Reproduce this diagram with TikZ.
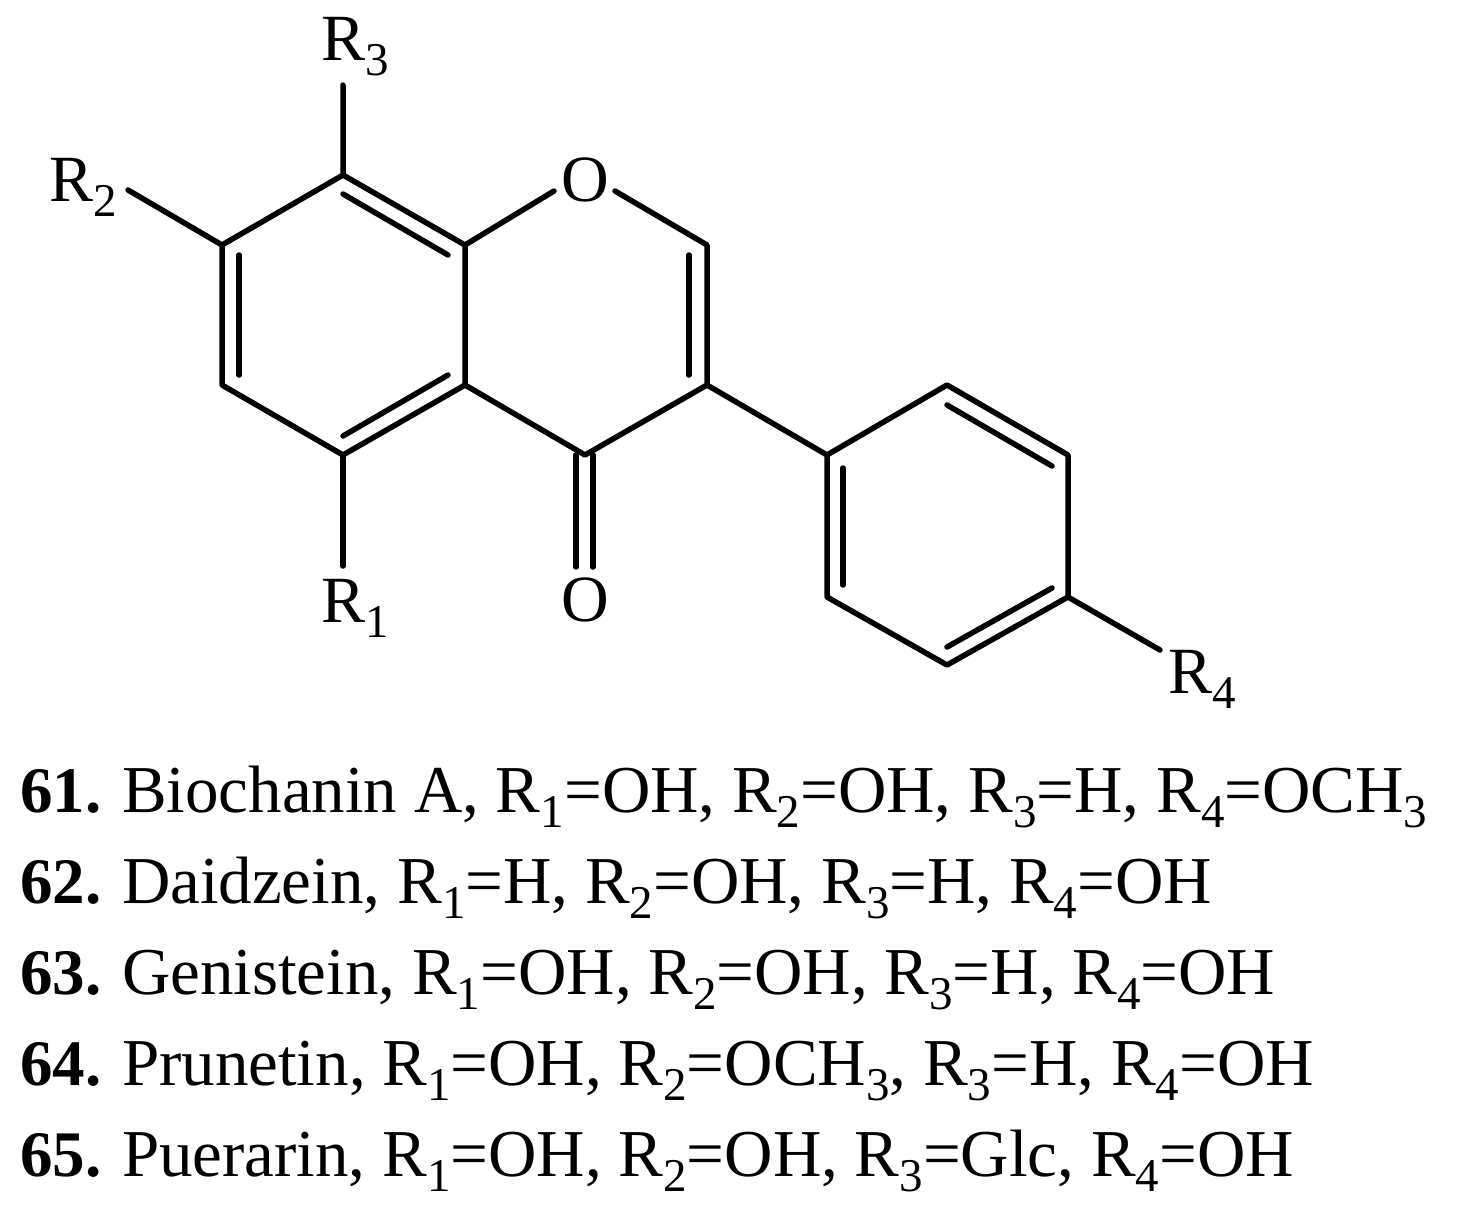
\documentclass[tikz,border=0pt]{standalone}
\usepackage{fontspec}
\setmainfont{Liberation Serif}
\newcommand\sbs[1]{\raisebox{-15pt}{\fontsize{47}{47}\selectfont #1}}
\newcommand\rr[1]{R\sbs{#1}}
\newcommand\num[1]{\makebox[102pt][l]{\fontsize{65}{65}\selectfont\textbf{#1}}}
\tikzset{
  bond/.style={line width=5.5pt,line cap=round,line join=round,black},
  atom/.style={inner sep=0pt,outer sep=0pt,font=\fontsize{66}{66}\selectfont,text=black},
  row/.style={inner sep=0pt,outer sep=0pt,anchor=base west,font=\fontsize{67}{67}\selectfont,text=black}
}
\begin{document}
\begin{tikzpicture}[x=1pt,y=-1pt]
\useasboundingbox (0,0) rectangle (1461,1218);
% ring atoms
\coordinate (c8) at (343,175);
\coordinate (c8a) at (465,245);
\coordinate (c2) at (707,245);
\coordinate (c3) at (707,385);
\coordinate (c4) at (585,455);
\coordinate (c4a) at (465,385);
\coordinate (c5) at (343,455);
\coordinate (c6) at (222,385);
\coordinate (c7) at (222,245);
\coordinate (p1) at (827,455);
\coordinate (p2) at (947,385);
\coordinate (p3) at (1068,455);
\coordinate (p4) at (1068,597);
\coordinate (p5) at (947,665);
\coordinate (p6) at (827,597);
% bond ends at labels
\coordinate (er3) at (343,85);
\coordinate (er2) at (128,190);
\coordinate (er1) at (343,566);
\coordinate (er4) at (1160,650);
\coordinate (eo1) at (554,191);
\coordinate (eo2) at (615,191);
% inner double bond lines
\coordinate (i1a) at (343,194);
\coordinate (i1b) at (448,255);
\coordinate (i2a) at (239,255);
\coordinate (i2b) at (239,375);
\coordinate (i3a) at (343,436);
\coordinate (i3b) at (448,375);
\coordinate (i4a) at (689,255);
\coordinate (i4b) at (689,375);
\coordinate (i5a) at (947,405);
\coordinate (i5b) at (1052,466);
\coordinate (i6a) at (843,468);
\coordinate (i6b) at (843,585);
\coordinate (i7a) at (1052,588);
\coordinate (i7b) at (947,647);
\coordinate (co1a) at (576,455);
\coordinate (co1b) at (576,567);
\coordinate (co2a) at (593,455);
\coordinate (co2b) at (593,567);
% labels
\node[atom] (O1) at (585,180) {O};
\node[atom] (O2) at (585,600) {O};
\node[atom,anchor=base west] (R3) at (321,60) {\rr{3}};
\node[atom,anchor=base west] (R2) at (49,201) {\rr{2}};
\node[atom,anchor=base west] (R1) at (321,622) {\rr{1}};
\node[atom,anchor=base west] (R4) at (1168,693) {\rr{4}};
% bonds
\draw[bond] (er3) -- (c8) -- (c8a) -- (c4a) -- (c5) -- (c6) -- (c7) -- (c8);
\draw[bond] (c7) -- (er2);
\draw[bond] (c5) -- (er1);
\draw[bond] (c8a) -- (eo1);
\draw[bond] (eo2) -- (c2) -- (c3) -- (c4) -- (c4a);
\draw[bond] (c3) -- (p1) -- (p2) -- (p3) -- (p4) -- (p5) -- (p6) -- (p1);
\draw[bond] (p4) -- (er4);
\draw[bond] (i1a) -- (i1b);
\draw[bond] (i2a) -- (i2b);
\draw[bond] (i3a) -- (i3b);
\draw[bond] (i4a) -- (i4b);
\draw[bond] (i5a) -- (i5b);
\draw[bond] (i6a) -- (i6b);
\draw[bond] (i7a) -- (i7b);
\draw[bond] (co1a) -- (co1b);
\draw[bond] (co2a) -- (co2b);
% text rows
\node[row] (l1) at (20,812) {\num{61.}Biochanin A, \rr{1}=OH, \rr{2}=OH, \rr{3}=H, \rr{4}=OCH\sbs{3}};
\node[row] (l2) at (20,903) {\num{62.}Daidzein, \rr{1}=H, \rr{2}=OH, \rr{3}=H, \rr{4}=OH};
\node[row] (l3) at (20,994) {\num{63.}Genistein, \rr{1}=OH, \rr{2}=OH, \rr{3}=H, \rr{4}=OH};
\node[row] (l4) at (20,1085) {\num{64.}Prunetin, \rr{1}=OH, \rr{2}=OCH\sbs{3}, \rr{3}=H, \rr{4}=OH};
\node[row] (l5) at (20,1176) {\num{65.}Puerarin, \rr{1}=OH, \rr{2}=OH, \rr{3}=Glc, \rr{4}=OH};
\end{tikzpicture}
\end{document}
